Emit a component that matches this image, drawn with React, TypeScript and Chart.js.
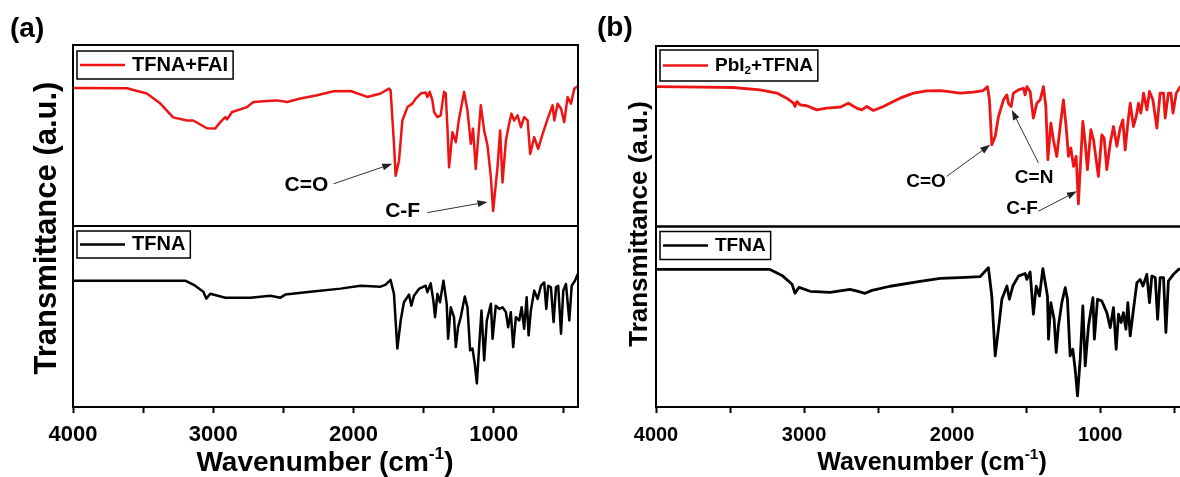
import React, { useEffect, useRef } from 'react';
import { Chart, registerables } from 'chart.js';

Chart.register(...registerables);

const FONT = "'Liberation Sans', Arial, Helvetica, sans-serif";
const RED = '#ee1414';
const BLACK = '#000000';

// x axis tick values (cm-1)
const xTickValues = [500, 1000, 1500, 2000, 2500, 3000, 3500, 4000];

// ---------- Panel (a): TFNA+FAI ----------
const wnA_FAI = [4000, 3616, 3474, 3379, 3286, 3188, 3143, 3045, 2986, 2950, 2914, 2902, 2866, 2759, 2714, 2616, 2545, 2474, 2379, 2259, 2143, 2021, 1902, 1807, 1748, 1736, 1712, 1700, 1676, 1652, 1616, 1581, 1557, 1521, 1486, 1474, 1457, 1438, 1426, 1402, 1379, 1355, 1343, 1331, 1319, 1295, 1271, 1248, 1212, 1188, 1164, 1148, 1129, 1093, 1069, 1045, 1021, 1005, 974, 955, 938, 914, 891, 874, 855, 831, 807, 784, 759, 741, 712, 684, 652, 616, 581, 569, 545, 521, 498, 474, 450, 426, 402];
const tA_FAI = [76.3, 76.1, 73.2, 67.8, 60, 58.3, 58.3, 54, 53.9, 57.4, 60.2, 58.9, 63, 65.7, 68.5, 69, 69.4, 68.5, 70.4, 72.2, 74.4, 74.6, 71.3, 73.2, 75.9, 75, 45.6, 27.8, 36.1, 58.3, 65.7, 67.6, 70.4, 73.2, 73.7, 71.3, 74.1, 69.4, 62.9, 60.2, 61.1, 74.1, 73.2, 54.6, 32.4, 51.8, 46.3, 59.3, 74.1, 63.9, 45.4, 53.7, 31.5, 66.7, 52.8, 44.4, 26.8, 8.3, 32.4, 52.8, 24.1, 47.2, 56.5, 62.1, 58.3, 61.1, 54.6, 60.2, 58.3, 39.8, 49.1, 42.6, 50.9, 59.3, 66.7, 58.3, 67.6, 64.8, 57.4, 71.3, 67.6, 75.9, 77.2];

// ---------- Panel (a): TFNA ----------
const wnA_TFNA = [4000, 3200, 3129, 3071, 3050, 3021, 2914, 2736, 2593, 2521, 2486, 2307, 2093, 1950, 1807, 1771, 1736, 1712, 1688, 1664, 1641, 1605, 1588, 1569, 1534, 1486, 1474, 1450, 1431, 1419, 1402, 1384, 1359, 1336, 1326, 1307, 1284, 1271, 1255, 1236, 1207, 1188, 1169, 1152, 1136, 1121, 1105, 1088, 1069, 1050, 1021, 1009, 986, 962, 938, 914, 898, 879, 862, 843, 819, 802, 784, 766, 752, 736, 712, 688, 664, 641, 626, 612, 593, 574, 557, 541, 521, 505, 486, 462, 445, 421, 402];
const tA_TFNA = [69.8, 69.8, 67, 63.7, 59.9, 62.6, 60.4, 60.4, 61.5, 60.4, 62.1, 63.7, 65.4, 67, 66.5, 67.6, 70.2, 62.5, 32.3, 47.8, 57.9, 62.1, 56, 61.5, 65.2, 67, 63.4, 68.3, 58.8, 49.6, 62.5, 57.9, 69.8, 57, 37.7, 55.1, 49.6, 33.1, 44.1, 49.6, 61, 55.1, 31.3, 32.3, 24, 13, 33.1, 53.3, 25.8, 47.8, 57, 37.7, 56, 54.2, 55.1, 52.4, 44.1, 52.4, 33.1, 49.6, 47.8, 55.1, 43.2, 60.6, 39.6, 53.3, 64.3, 59.7, 67, 68.8, 54.2, 67, 66.1, 46.9, 66.1, 67, 40.5, 64.3, 68, 47.8, 67, 69.8, 73.5];

// ---------- Panel (b): PbI2+TFNA ----------
const wnB_PbI2 = [4000, 3703, 3480, 3297, 3184, 3117, 3072, 3061, 3049, 3027, 2982, 2914, 2847, 2757, 2701, 2644, 2610, 2576, 2532, 2464, 2397, 2351, 2261, 2171, 2081, 2036, 1946, 1856, 1789, 1761, 1748, 1732, 1709, 1687, 1653, 1630, 1620, 1601, 1586, 1552, 1518, 1507, 1495, 1473, 1451, 1428, 1405, 1383, 1367, 1353, 1333, 1316, 1293, 1270, 1248, 1230, 1214, 1198, 1180, 1162, 1147, 1135, 1117, 1101, 1086, 1063, 1045, 1027, 1012, 989, 973, 955, 932, 910, 887, 865, 847, 831, 813, 797, 775, 757, 741, 725, 707, 684, 667, 644, 617, 595, 572, 561, 539, 522, 508, 486, 459, 430, 400];
const tB_PbI2 = [77.5, 77.2, 77, 75.7, 73.9, 71.1, 68.3, 66.5, 69.2, 67.4, 66.9, 64.6, 65.6, 66.1, 68.3, 65.6, 64.6, 66.5, 64.3, 66.5, 69.2, 71.1, 73.9, 75.1, 75.3, 74.8, 73.9, 74.4, 75.3, 77.5, 70.2, 45.3, 49.9, 60.9, 70.2, 72.9, 68.3, 66.5, 73.9, 75.7, 76.6, 72.9, 77.5, 74.8, 60.1, 68.3, 70.2, 77.5, 66.5, 37, 57.3, 48.1, 38.8, 55.4, 70.2, 55.4, 38.8, 43.5, 33.3, 38.8, 12.5, 31.5, 58.2, 46.2, 31.5, 53.6, 48.1, 37, 27.8, 50.8, 49, 31.5, 46.2, 55.4, 44.4, 54.5, 59.1, 42.5, 57.3, 68.3, 55.4, 60.9, 68.3, 62.8, 73.9, 64.6, 74.8, 70.2, 54.5, 73.9, 73.9, 60.1, 73.9, 73.9, 62.8, 73.9, 77.5, 74, 77];

// ---------- Panel (b): TFNA ----------
const wnB_TFNA = [4000, 3230, 3149, 3081, 3061, 3034, 2959, 2824, 2689, 2635, 2588, 2541, 2419, 2216, 2081, 1946, 1811, 1755, 1732, 1709, 1687, 1664, 1630, 1613, 1590, 1552, 1507, 1495, 1473, 1451, 1432, 1410, 1387, 1356, 1349, 1333, 1311, 1297, 1282, 1259, 1236, 1221, 1203, 1185, 1169, 1153, 1135, 1117, 1101, 1079, 1049, 1039, 1018, 989, 955, 932, 910, 892, 876, 858, 843, 826, 813, 797, 775, 752, 730, 711, 685, 667, 651, 628, 612, 595, 572, 556, 539, 505, 471, 430, 400];
const tB_TFNA = [76.2, 76.2, 72.9, 68, 63, 66.3, 64.1, 63.5, 65.2, 64.1, 63, 64.6, 66.9, 69.6, 71.3, 71.7, 72.2, 77.2, 61.5, 28.3, 43.1, 59.7, 67, 59.7, 67, 72.5, 74, 70.7, 74.8, 51.4, 67, 61.5, 76.6, 61.5, 37.6, 57.8, 48.6, 30.2, 44.9, 57.8, 66.1, 59.7, 28.3, 32, 21, 6.2, 26.5, 56, 22.8, 44.9, 60.6, 37.6, 59.7, 58.7, 52.3, 44, 55.1, 32, 51.4, 46.8, 52.3, 43.1, 57.8, 39.4, 54.1, 68.9, 70.7, 67, 73.5, 57.8, 72.5, 71.7, 48.6, 71.7, 71.7, 41.3, 69.8, 73.5, 76.2, 77, 78];

// Peak labels: [text, text wn, text T, arrow start wn, arrow start T, arrow tip wn, arrow tip T]
const peaksA: [string, number, number, number, number, number, number][] = [
  ['C=O', 2336, 22.8, 2143, 23.3, 1724, 34.4],
  ['C-F', 1650, 8.3, 1474, 7.4, 1045, 13.3],
];
const peaksB: [string, number, number, number, number, number, number][] = [
  ['C=O', 2176, 24.9, 2036, 27.8, 1743, 45.3],
  ['C=N', 1446, 27.1, 1417, 35.2, 1597, 64.6],
  ['C-F', 1527, 9.9, 1417, 8.5, 1157, 19.5],
];

type Part = { t: string; sub?: boolean; sup?: boolean };

const pts = (wn: number[], t: number[]) => wn.map((x, i) => ({ x, y: t[i] }));

function drawRich(ctx: CanvasRenderingContext2D, parts: Part[], x: number, y: number, size: number, center: boolean) {
  const small = size * 0.62;
  const fontFor = (p: Part) => `bold ${p.sub || p.sup ? small : size}px ${FONT}`;
  let total = 0;
  const widths = parts.map((p) => {
    ctx.font = fontFor(p);
    const w = ctx.measureText(p.t).width;
    total += w;
    return w;
  });
  let cx = center ? x - total / 2 : x;
  ctx.textAlign = 'left';
  ctx.textBaseline = 'middle';
  parts.forEach((p, i) => {
    ctx.font = fontFor(p);
    const dy = p.sup ? -size * 0.32 : p.sub ? size * 0.3 : 0;
    ctx.fillText(p.t, cx, y + dy);
    cx += widths[i];
  });
  return total;
}

interface PanelCfg {
  canvasWidth: number;
  padLeft: number;
  padRight: number;
  padTop: number;
  tickSize: number;
  tickPad: number;
  lineWidth: number;
  topLabel: string;
  botLabel: string;
  topParts: Part[];
  botParts: Part[];
  topData: { x: number; y: number }[];
  botData: { x: number; y: number }[];
  legendSize: number;
  legendTop: { dy: number; h: number };
  legendBot: { dy: number; h: number };
  panelLabel: string;
  panelLabelX: number;
  panelLabelY: number;
  yTitleX: number;
  yTitleY: number;
  yTitleSize: number;
  xTitleX: number;
  xTitleY: number;
  xTitleSize: number;
  peaks: [string, number, number, number, number, number, number][];
  peakSize: number;
}

function makeDecor(cfg: PanelCfg) {
  return {
    id: 'decor',
    afterDraw(chart: any) {
      const ctx: CanvasRenderingContext2D = chart.ctx;
      const area = chart.chartArea;
      const xs = chart.scales.x;
      ctx.save();
      ctx.fillStyle = '#000';
      // frames
      ctx.strokeStyle = '#000';
      ctx.lineWidth = 2;
      ['yTop', 'yBot'].forEach((id) => {
        const s = chart.scales[id];
        ctx.strokeRect(area.left, s.top, area.right - area.left, s.bottom - s.top);
      });
      // legends
      const legends: [string, Part[], string, { dy: number; h: number }][] = [
        ['yTop', cfg.topParts, RED, cfg.legendTop],
        ['yBot', cfg.botParts, BLACK, cfg.legendBot],
      ];
      legends.forEach(([id, parts, color, lg]) => {
        const s = chart.scales[id];
        const bx = area.left + 4;
        const by = s.top + lg.dy;
        const mid = by + lg.h / 2;
        ctx.fillStyle = '#000';
        const tw = drawRich(ctx, parts, bx + 55, mid, cfg.legendSize, false);
        ctx.lineWidth = 1.5;
        ctx.strokeStyle = '#000';
        ctx.strokeRect(bx, by, 55 + tw + 5, lg.h);
        ctx.strokeStyle = color;
        ctx.lineWidth = 2.5;
        ctx.beginPath();
        ctx.moveTo(bx + 3, mid);
        ctx.lineTo(bx + 48, mid);
        ctx.stroke();
      });
      // peak annotations
      const ys = chart.scales.yTop;
      cfg.peaks.forEach(([text, tx, ty, x1, y1, x2, y2]) => {
        const px = xs.getPixelForValue(tx);
        const py = ys.getPixelForValue(ty);
        ctx.fillStyle = '#000';
        ctx.font = `bold ${cfg.peakSize}px ${FONT}`;
        ctx.textAlign = 'center';
        ctx.textBaseline = 'middle';
        ctx.fillText(text, px, py);
        const ax1 = xs.getPixelForValue(x1);
        const ay1 = ys.getPixelForValue(y1);
        const ax2 = xs.getPixelForValue(x2);
        const ay2 = ys.getPixelForValue(y2);
        const ang = Math.atan2(ay2 - ay1, ax2 - ax1);
        const hl = 10;
        const hw = 3.5;
        ctx.strokeStyle = '#333';
        ctx.lineWidth = 1;
        ctx.beginPath();
        ctx.moveTo(ax1, ay1);
        ctx.lineTo(ax2 - hl * Math.cos(ang), ay2 - hl * Math.sin(ang));
        ctx.stroke();
        ctx.fillStyle = '#222';
        ctx.beginPath();
        ctx.moveTo(ax2, ay2);
        ctx.lineTo(ax2 - hl * Math.cos(ang) + hw * Math.sin(ang), ay2 - hl * Math.sin(ang) - hw * Math.cos(ang));
        ctx.lineTo(ax2 - hl * Math.cos(ang) - hw * Math.sin(ang), ay2 - hl * Math.sin(ang) + hw * Math.cos(ang));
        ctx.closePath();
        ctx.fill();
      });
      // panel label
      ctx.fillStyle = '#000';
      ctx.font = `bold 28px ${FONT}`;
      ctx.textAlign = 'left';
      ctx.textBaseline = 'middle';
      ctx.fillText(cfg.panelLabel, cfg.panelLabelX, cfg.panelLabelY);
      // y title
      ctx.save();
      ctx.translate(cfg.yTitleX, cfg.yTitleY);
      ctx.rotate(-Math.PI / 2);
      ctx.font = `bold ${cfg.yTitleSize}px ${FONT}`;
      ctx.textAlign = 'center';
      ctx.textBaseline = 'middle';
      ctx.fillText('Transmittance (a.u.)', 0, 0);
      ctx.restore();
      // x title
      drawRich(ctx, [{ t: 'Wavenumber (cm' }, { t: '-1', sup: true }, { t: ')' }], cfg.xTitleX, cfg.xTitleY, cfg.xTitleSize, true);
      ctx.restore();
    },
  };
}

function Panel({ cfg, left }: { cfg: PanelCfg; left: number }) {
  const ref = useRef<HTMLCanvasElement>(null);
  useEffect(() => {
    if (!ref.current) return;
    const lineDs = (label: string, data: any[], color: string, axis: string) => ({
      label,
      data,
      yAxisID: axis,
      borderColor: color,
      backgroundColor: color,
      borderWidth: cfg.lineWidth,
      pointRadius: 0,
      tension: 0,
      fill: false,
      borderJoinStyle: 'round' as const,
    });
    const chart = new Chart(ref.current, {
      type: 'line',
      data: {
        datasets: [
          lineDs(cfg.topLabel, cfg.topData, RED, 'yTop'),
          lineDs(cfg.botLabel, cfg.botData, BLACK, 'yBot'),
        ],
      },
      options: {
        responsive: false,
        animation: false,
        devicePixelRatio: 1,
        events: [],
        layout: { padding: { left: cfg.padLeft, right: cfg.padRight, top: cfg.padTop, bottom: 0 } },
        plugins: { legend: { display: false }, tooltip: { enabled: false } },
        scales: {
          x: {
            type: 'linear',
            min: 400,
            max: 4000,
            reverse: true,
            afterBuildTicks: (s: any) => {
              s.ticks = xTickValues.map((v) => ({ value: v }));
            },
            afterFit: (s: any) => {
              s.height = 70;
            },
            ticks: {
              autoSkip: false,
              maxRotation: 0,
              padding: cfg.tickPad,
              color: '#000',
              font: { family: FONT, size: cfg.tickSize, weight: 'bold' },
              callback: (v: any) => (Number(v) % 1000 === 0 ? String(v) : ''),
            },
            grid: { drawOnChartArea: false, tickLength: 6, tickWidth: 2, tickColor: '#000' },
            border: { display: false },
          },
          // stacked scales: the later-defined one is placed on top
          yBot: { type: 'linear', display: false, min: 0, max: 100, position: 'left', stack: 'p', stackWeight: 1 },
          yTop: { type: 'linear', display: false, min: 0, max: 100, position: 'left', stack: 'p', stackWeight: 1 },
        },
      } as any,
      plugins: [makeDecor(cfg)],
    });
    return () => chart.destroy();
  }, []);
  return (
    <canvas
      ref={ref}
      width={cfg.canvasWidth}
      height={477}
      style={{ position: 'absolute', left, top: 0, width: cfg.canvasWidth, height: 477 }}
    />
  );
}

const cfgA: PanelCfg = {
  canvasWidth: 590,
  padLeft: 73,
  padRight: 12,
  padTop: 45,
  tickSize: 22,
  tickPad: 9,
  lineWidth: 2.5,
  topLabel: 'TFNA+FAI',
  botLabel: 'TFNA',
  topParts: [{ t: 'TFNA+FAI' }],
  botParts: [{ t: 'TFNA' }],
  topData: pts(wnA_FAI, tA_FAI),
  botData: pts(wnA_TFNA, tA_TFNA),
  legendSize: 20,
  legendTop: { dy: 6, h: 28 },
  legendBot: { dy: 5, h: 27 },
  panelLabel: '(a)',
  panelLabelX: 10,
  panelLabelY: 29,
  yTitleX: 47,
  yTitleY: 228,
  yTitleSize: 31,
  xTitleX: 325,
  xTitleY: 463,
  xTitleSize: 28,
  peaks: peaksA,
  peakSize: 21,
};

const cfgB: PanelCfg = {
  canvasWidth: 610,
  padLeft: 66,
  padRight: 11,
  padTop: 46,
  tickSize: 20,
  tickPad: 10,
  lineWidth: 2.8,
  topLabel: 'PbI2+TFNA',
  botLabel: 'TFNA',
  topParts: [{ t: 'PbI' }, { t: '2', sub: true }, { t: '+TFNA' }],
  botParts: [{ t: 'TFNA' }],
  topData: pts(wnB_PbI2, tB_PbI2),
  botData: pts(wnB_TFNA, tB_TFNA),
  legendSize: 19,
  legendTop: { dy: 4, h: 31 },
  legendBot: { dy: 5, h: 28 },
  panelLabel: '(b)',
  panelLabelX: 7,
  panelLabelY: 28,
  yTitleX: 50,
  yTitleY: 224,
  yTitleSize: 26,
  xTitleX: 342,
  xTitleY: 463,
  xTitleSize: 25,
  peaks: peaksB,
  peakSize: 19,
};

export default function App() {
  return (
    <div
      style={{
        position: 'absolute',
        left: 0,
        top: 0,
        width: 1180,
        height: 477,
        overflow: 'hidden',
        background: '#fff',
      }}
    >
      <Panel cfg={cfgA} left={0} />
      <Panel cfg={cfgB} left={590} />
    </div>
  );
}
